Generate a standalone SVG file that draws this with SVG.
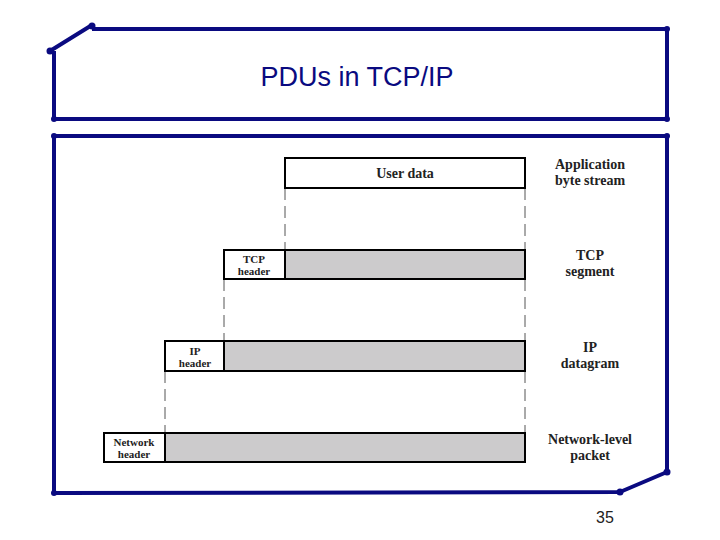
<svg xmlns="http://www.w3.org/2000/svg" width="720" height="540" viewBox="0 0 720 540">
<style>
.fr{fill:none;stroke:#0a0a80;stroke-width:4;stroke-linejoin:round}
.dot{fill:#0a0a80}
.bx{stroke:#000;stroke-width:2}
.w{fill:#fff}.g{fill:#cccbcc}
.ds{stroke:#555;stroke-width:1;stroke-dasharray:12,6;fill:none}
.t{font-family:"Liberation Serif",serif;font-weight:bold;fill:#222;text-anchor:middle}
</style>
<rect width="720" height="540" fill="#fff"/>
<g id="frames">
<path class="fr" d="M50,51 L92,25 M92,29 L667,29 L667,119 L54,119 L54,51"/>
<path class="fr" d="M54,136 L667,136 L667,472 L620,492 L54,493 L54,136"/>
<g class="dot">
<circle cx="50" cy="51" r="3.5"/><circle cx="92" cy="26" r="3.5"/><circle cx="667" cy="29" r="3"/><circle cx="667" cy="119" r="3"/><circle cx="54" cy="119" r="3"/>
<circle cx="54" cy="136" r="3"/><circle cx="667" cy="136" r="3"/><circle cx="667" cy="472" r="3.5"/><circle cx="620" cy="492" r="3.5"/><circle cx="54" cy="493" r="3"/>
</g>
<text x="357" y="86" font-family="Liberation Sans,Arial,sans-serif" font-size="27" fill="#0a0a80" text-anchor="middle">PDUs in TCP/IP</text>
<text x="605" y="523" font-family="Liberation Sans,Arial,sans-serif" font-size="16" fill="#222" text-anchor="middle">35</text>
</g>
<g id="connectors">
<path class="ds" d="M285,188 V250 M525,188 V250 M224,279 V341 M525,279 V341 M165,371 V433 M525,371 V433"/>
</g>
<g id="user-data">
<rect class="bx w" x="285" y="158" width="240" height="30"/>
<text class="t" x="405" y="178" font-size="14">User data</text>
</g>
<g id="tcp-segment">
<rect class="bx g" x="224" y="250" width="301" height="29"/>
<rect class="bx w" x="224" y="250" width="61" height="29"/>
<text class="t" x="254" y="263" font-size="11">TCP</text><text class="t" x="254" y="275" font-size="11">header</text>
</g>
<g id="ip-datagram">
<rect class="bx g" x="165" y="341" width="360" height="30"/>
<rect class="bx w" x="165" y="341" width="59" height="30"/>
<text class="t" x="195" y="355" font-size="11">IP</text><text class="t" x="195" y="367" font-size="11">header</text>
</g>
<g id="network-packet">
<rect class="bx g" x="104" y="433" width="421" height="29"/>
<rect class="bx w" x="104" y="433" width="61" height="29"/>
<text class="t" x="134" y="446" font-size="11">Network</text><text class="t" x="134" y="458" font-size="11">header</text>
</g>
<g id="labels">
<text class="t" x="590" y="169" font-size="14">Application</text><text class="t" x="590" y="185" font-size="14">byte stream</text>
<text class="t" x="590" y="260" font-size="14">TCP</text><text class="t" x="590" y="276" font-size="14">segment</text>
<text class="t" x="590" y="352" font-size="14">IP</text><text class="t" x="590" y="368" font-size="14">datagram</text>
<text class="t" x="590" y="444" font-size="14">Network-level</text><text class="t" x="590" y="460" font-size="14">packet</text>
</g>
</svg>
